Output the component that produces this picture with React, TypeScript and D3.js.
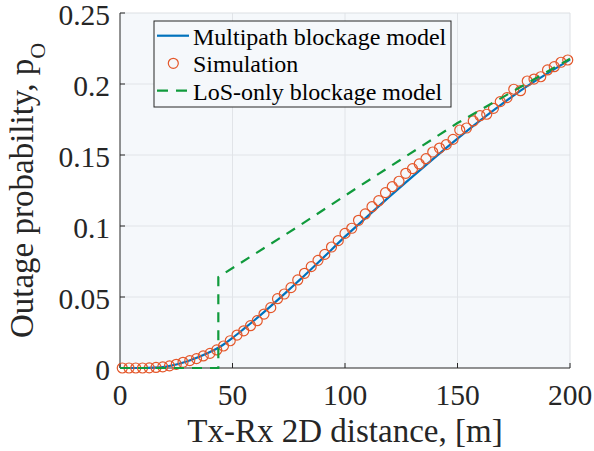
import React from "react";
import * as d3 from "d3";

// Multipath blockage model (analytical curve)
const modelDistance = [0, 10, 15, 20, 25, 30, 35, 40, 45, 50, 55, 60, 65, 70, 75, 80, 90, 100, 110, 120, 130, 140, 150, 160, 170, 180, 190, 200];
const modelOutage = [0, 0, 0.0002, 0.0009, 0.0025, 0.0048, 0.0077, 0.0112, 0.0155, 0.0212, 0.0275, 0.034, 0.0408, 0.0478, 0.055, 0.0622, 0.0772, 0.0925, 0.1068, 0.121, 0.1348, 0.1483, 0.1615, 0.1742, 0.1862, 0.1975, 0.2075, 0.2172];

// Monte Carlo simulation points
const simDistance = [1, 4, 7, 10, 13, 16, 19, 22, 25, 28, 31, 34, 37, 40, 43, 46, 49, 52, 55, 58, 61, 64, 67, 70, 73, 76, 79, 82, 85, 88, 91, 94, 97, 100, 103, 106, 109, 112, 115, 118, 121, 124, 127, 130, 133, 136, 139, 142, 145, 148, 151, 154, 157, 160, 163, 166, 169, 172, 175, 178, 181, 184, 187, 190, 193, 196, 199];
const simOutage = [0, 0, 0, 0, 0.0001, 0.0004, 0.0008, 0.0015, 0.0026, 0.004, 0.0052, 0.0066, 0.0085, 0.0103, 0.0127, 0.0155, 0.0192, 0.0232, 0.0262, 0.0298, 0.0333, 0.038, 0.0425, 0.0488, 0.0521, 0.0566, 0.062, 0.0667, 0.0714, 0.0758, 0.08, 0.0852, 0.0897, 0.0948, 0.0984, 0.104, 0.1085, 0.1136, 0.1178, 0.1235, 0.1277, 0.1315, 0.1371, 0.1404, 0.1437, 0.1474, 0.1521, 0.1549, 0.1573, 0.161, 0.1676, 0.169, 0.174, 0.1777, 0.1787, 0.1829, 0.1876, 0.1904, 0.1963, 0.1953, 0.2021, 0.2035, 0.2051, 0.2099, 0.2122, 0.2153, 0.2169];

// LoS-only blockage model
const losDistance = [0, 43.7, 43.7, 80, 105, 150, 200];
const losOutage = [0, 0, 0.064, 0.1005, 0.1265, 0.1725, 0.2178];

const xTicks = [0, 50, 100, 150, 200];
const yTicks = [0, 0.05, 0.1, 0.15, 0.2, 0.25];
const yTickLabels = ["0", "0.05", "0.1", "0.15", "0.2", "0.25"];
const legendLabels = ["Multipath blockage model", "Simulation", "LoS-only blockage model"];

const W = 594;
const H = 451;
const left = 120;
const right = 570;
const top = 13;
const bottom = 368;

const BLUE = "#0072BD";
const ORANGE = "#E4572A";
const GREEN = "#109A3C";
const FONT = "'Liberation Serif', 'Times New Roman', serif";

export default function App() {
  const x = d3.scaleLinear().domain([0, 200]).range([left, right]);
  const y = d3.scaleLinear().domain([0, 0.25]).range([bottom, top]);

  const modelPts: [number, number][] = modelDistance.map((d, i) => [d, modelOutage[i]]);
  const losPts: [number, number][] = losDistance.map((d, i) => [d, losOutage[i]]);

  const smooth = d3
    .line<[number, number]>()
    .x((p) => x(p[0]))
    .y((p) => y(p[1]))
    .curve(d3.curveMonotoneX);
  const straight = d3
    .line<[number, number]>()
    .x((p) => x(p[0]))
    .y((p) => y(p[1]));

  const legX = 154;
  const legY = 21;
  const legW = 297;
  const legH = 86;
  const rowY = [35.7, 63.3, 90.7];

  return (
    <svg
      width={W}
      height={H}
      viewBox={`0 0 ${W} ${H}`}
      style={{ position: "absolute", left: 0, top: 0, background: "#fff" }}
      fontFamily={FONT}
    >
      {/* plot background */}
      <rect x={left} y={top} width={right - left} height={bottom - top} fill="#F5F8FB" />

      {/* grid */}
      {xTicks.slice(1, -1).map((t) => (
        <line key={"gx" + t} x1={x(t)} x2={x(t)} y1={top} y2={bottom} stroke="#E1E4E8" strokeWidth={1} />
      ))}
      {yTicks.slice(1, -1).map((t) => (
        <line key={"gy" + t} x1={left} x2={right} y1={y(t)} y2={y(t)} stroke="#E1E4E8" strokeWidth={1} />
      ))}

      {/* box: top and right */}
      <line x1={left} x2={right} y1={top} y2={top} stroke="#DCDFE3" strokeWidth={1} />
      <line x1={right} x2={right} y1={top} y2={bottom} stroke="#DCDFE3" strokeWidth={1} />

      {/* axes */}
      <line x1={left} x2={right} y1={bottom} y2={bottom} stroke="#262626" strokeWidth={1} />
      <line x1={left} x2={left} y1={top} y2={bottom} stroke="#262626" strokeWidth={1} />
      {xTicks.map((t) => (
        <line key={"tx" + t} x1={x(t)} x2={x(t)} y1={bottom} y2={bottom - 5} stroke="#262626" strokeWidth={1} />
      ))}
      {yTicks.map((t) => (
        <line key={"ty" + t} x1={left} x2={left + 5} y1={y(t)} y2={y(t)} stroke="#262626" strokeWidth={1} />
      ))}

      {/* tick labels */}
      {xTicks.map((t) => (
        <text key={"lx" + t} x={x(t)} y={405} textAnchor="middle" fontSize={29.5} fill="#262626">
          {t}
        </text>
      ))}
      {yTicks.map((t, i) => (
        <text key={"ly" + t} x={110} y={y(t) + 12} textAnchor="end" fontSize={29.5} fill="#262626">
          {yTickLabels[i]}
        </text>
      ))}

      {/* axis labels */}
      <text x={(left + right) / 2} y={441.5} textAnchor="middle" fontSize={33} fill="#262626">
        Tx-Rx 2D distance, [m]
      </text>
      <text transform={`translate(33,${(top + bottom) / 2}) rotate(-90)`} textAnchor="middle" fontSize={33} fill="#262626">
        Outage probability, p
        <tspan fontSize={22} dy={12}>O</tspan>
      </text>

      {/* data */}
      <path d={smooth(modelPts) || ""} fill="none" stroke={BLUE} strokeWidth={2.2} />
      {simDistance.map((d, i) => (
        <circle key={"s" + i} cx={x(d)} cy={y(simOutage[i])} r={5} fill="none" stroke={ORANGE} strokeWidth={1.2} />
      ))}
      <path d={straight(losPts) || ""} fill="none" stroke={GREEN} strokeWidth={2.2} strokeDasharray="10,8" />

      {/* legend */}
      <rect x={legX} y={legY} width={legW} height={legH} fill="#F5F8FB" stroke="#262626" strokeWidth={1} />
      <line x1={157} x2={189} y1={rowY[0]} y2={rowY[0]} stroke={BLUE} strokeWidth={2.2} />
      <circle cx={173.3} cy={rowY[1]} r={5} fill="none" stroke={ORANGE} strokeWidth={1.2} />
      <line x1={157} x2={189} y1={rowY[2]} y2={rowY[2]} stroke={GREEN} strokeWidth={2.2} strokeDasharray="11,8" />
      {legendLabels.map((s, i) => (
        <text key={s} x={193} y={rowY[i] + 9} fontSize={24} fill="#000">
          {s}
        </text>
      ))}
    </svg>
  );
}
